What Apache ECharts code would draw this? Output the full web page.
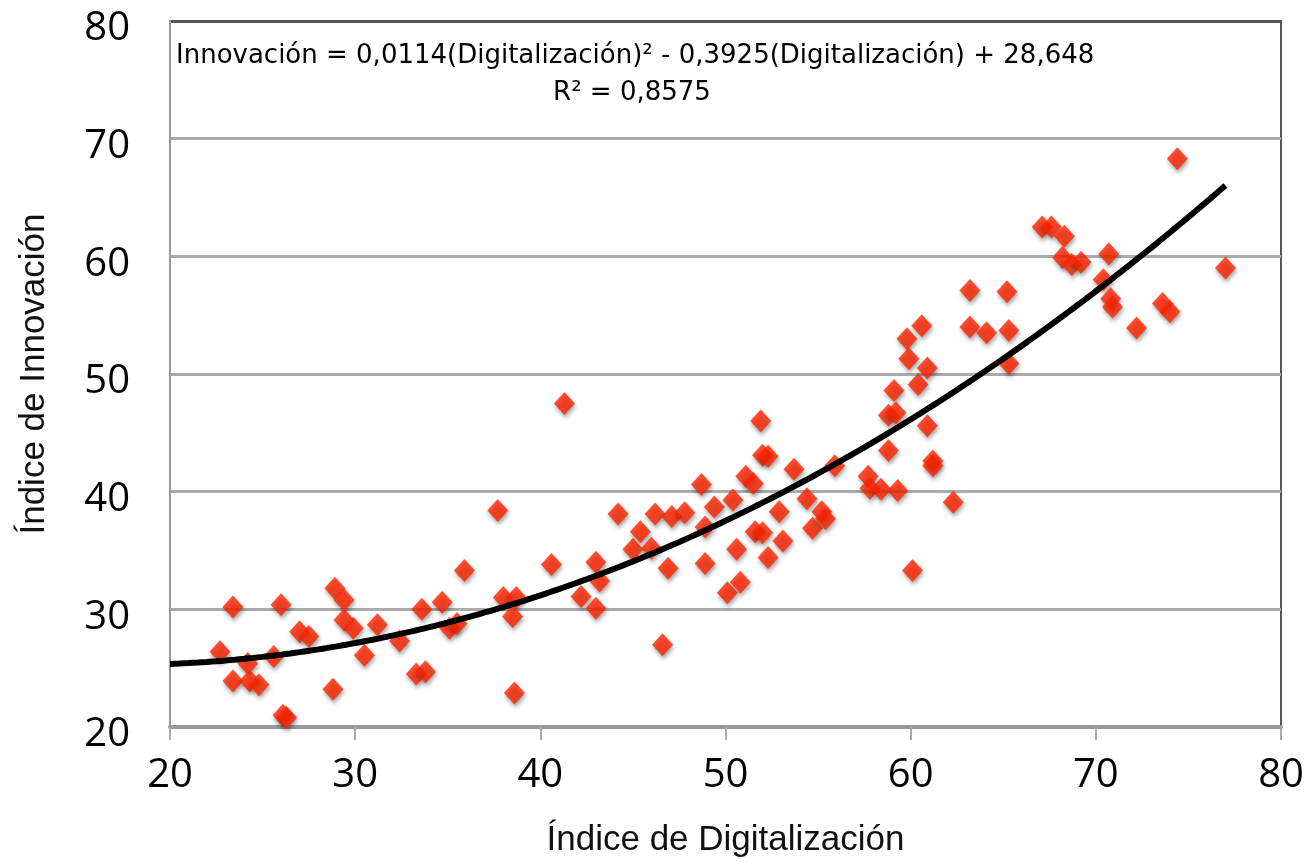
<!DOCTYPE html>
<html>
<head>
<meta charset="utf-8">
<script src="https://cdn.jsdelivr.net/npm/echarts@6/dist/echarts.min.js"></script>
<style>
html,body{margin:0;padding:0;background:#fff;}
#chart{width:1313px;height:864px;}
</style>
</head>
<body>
<div id="chart"></div>
<script>
// Scatter data: [Índice de Digitalización, Índice de Innovación]
const digitalizacion = [
 22.7,23.4,23.4,24.2,24.3,24.8,25.6,26.0,26.1,26.3,27.0,27.5,28.8,28.9,29.4,29.4,29.9,30.5,31.2,32.4,
 33.3,33.8,33.6,34.7,35.1,35.5,35.9,37.7,38.0,38.7,38.5,38.6,40.6,41.3,42.2,43.0,43.2,43.0,44.2,45.0,
 45.4,46.0,46.2,46.6,46.9,47.1,47.8,48.7,48.9,48.9,49.4,50.1,50.4,50.6,50.8,51.1,51.5,51.6,51.9,52.0,
 52.3,52.0,52.3,52.9,53.1,53.7,54.4,54.7,55.2,55.4,55.9,57.7,57.8,58.4,58.8,58.8,59.1,59.2,59.3,59.8,
 59.9,60.1,60.4,60.6,60.9,60.9,61.2,61.2,62.3,63.2,63.2,64.1,65.2,65.3,65.3,67.1,67.6,68.3,68.2,68.7,
 69.2,70.7,70.4,70.8,70.9,72.2,73.6,74.0,74.4,77.0
];
const innovacion = [
 26.4,30.2,23.9,25.4,23.9,23.6,26.0,30.4,21.0,20.8,28.1,27.7,23.2,31.8,30.8,29.1,28.4,26.1,28.7,27.3,
 24.5,24.7,30.0,30.6,28.4,28.8,33.3,38.4,31.0,31.0,29.4,22.9,33.8,47.5,31.1,34.0,32.4,30.1,38.1,35.1,
 36.6,35.2,38.1,27.0,33.5,37.9,38.2,40.6,37.0,33.9,38.7,31.4,39.3,35.1,32.3,41.3,40.7,36.6,46.0,43.1,
 43.0,36.5,34.4,38.3,35.8,41.9,39.4,36.9,38.3,37.7,42.2,41.3,40.3,40.2,43.5,46.5,48.6,46.7,40.1,53.0,
 51.3,33.3,49.1,54.1,50.5,45.6,42.6,42.2,39.1,57.1,54.0,53.5,57.0,53.7,50.9,62.5,62.5,61.7,59.9,59.3,
 59.5,60.2,58.0,56.4,55.7,53.9,56.0,55.3,68.3,59.0
];
// Polynomial trend line coefficients as printed on the chart (a2, a1, a0)
const trendCoef = [0.0114, -0.3925, 28.648];
const trendRange = [20, 77];
const xTicks = [20, 30, 40, 50, 60, 70, 80];
const yTicks = [20, 30, 40, 50, 60, 70, 80];
const equationText = 'Innovación = 0,0114(Digitalización)² - 0,3925(Digitalización) + 28,648';
const r2Text = 'R² = 0,8575';

const points = digitalizacion.map((x, i) => [x, innovacion[i]]);
const trend = [];
for (let x = trendRange[0]; x <= trendRange[1] + 1e-9; x += 0.5) {
  trend.push([x, trendCoef[0] * x * x + trendCoef[1] * x + trendCoef[2]]);
}

const chart = echarts.init(document.getElementById('chart'));
chart.setOption({
  animation: false,
  backgroundColor: '#fff',
  grid: { left: 170, right: 32, top: 21, bottom: 137, show: true, borderColor: '#555', borderWidth: 2 },
  xAxis: {
    type: 'value', min: xTicks[0], max: xTicks[xTicks.length - 1], interval: 10,
    name: 'Índice de Digitalización', nameLocation: 'middle', nameGap: 96,
    nameTextStyle: { fontFamily: 'Liberation Sans', fontSize: 35, color: '#111' },
    axisLine: { show: true, lineStyle: { color: '#999', width: 4 } },
    axisTick: { show: true, inside: false, length: 13, lineStyle: { color: '#aaa', width: 2 } },
    axisLabel: { margin: 29, fontFamily: 'Open Sans', fontSize: 40, color: '#000' },
    splitLine: { show: false }
  },
  yAxis: {
    type: 'value', min: yTicks[0], max: yTicks[yTicks.length - 1], interval: 10,
    name: 'Índice de Innovación', nameLocation: 'middle', nameGap: 118,
    nameTextStyle: { fontFamily: 'Liberation Sans', fontSize: 35, color: '#111' },
    axisLine: { show: true, lineStyle: { color: '#999', width: 2 } },
    axisTick: { show: false },
    axisLabel: { margin: 40, fontFamily: 'Open Sans', fontSize: 40, color: '#000', verticalAlign: 'top', lineHeight: 16 },
    splitLine: { show: true, lineStyle: { color: ['#aaa', '#aaa', '#aaa', '#aaa', '#aaa', '#aaa', '#555'], width: 3 } }
  },
  graphic: [
    { type: 'text', x: 176, y: 56, style: { text: equationText, font: '26px "DejaVu Sans"', fill: '#000', align: 'left', verticalAlign: 'middle' } },
    { type: 'text', x: 632, y: 93, style: { text: r2Text, font: '26px "DejaVu Sans"', fill: '#000', align: 'center', verticalAlign: 'middle' } }
  ],
  series: [
    {
      type: 'scatter', data: points, symbol: 'diamond', symbolSize: [21, 23],
      itemStyle: { color: '#ff2400', shadowBlur: 4, shadowColor: 'rgba(0,0,0,0.45)', shadowOffsetX: 1, shadowOffsetY: 3 },
      z: 3
    },
    {
      type: 'line', data: trend, showSymbol: false, smooth: true,
      lineStyle: { color: '#000', width: 6 }, z: 4
    }
  ]
});
</script>
</body>
</html>
